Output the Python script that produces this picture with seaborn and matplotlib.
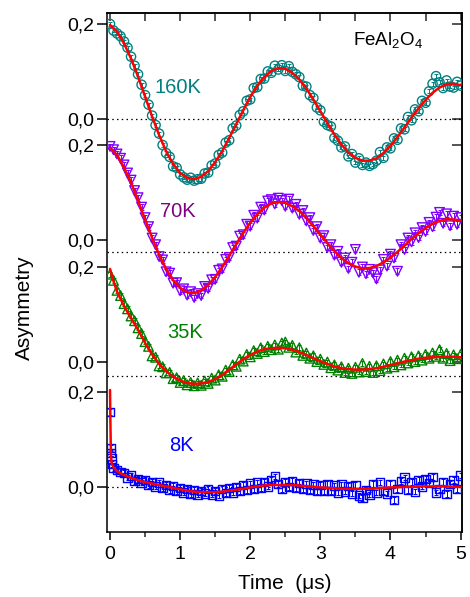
import numpy as np
import pandas as pd
import matplotlib
matplotlib.use("Agg")
import matplotlib.pyplot as plt
import seaborn as sns

# ---- data -------------------------------------------------------------
# muSR asymmetry spectra of FeAl2O4 at four temperatures
time_us = np.round(np.arange(0, 5.0001, 0.05), 2)      # histogram bins (μs)
fit_time_us = np.round(np.arange(0, 5.0001, 0.1), 1)   # fit evaluation grid

asym_160K = [0.200, 0.186, 0.180, 0.174, 0.163, 0.150, 0.131, 0.112, 0.094, 0.072,
             0.050, 0.030, 0.007, -0.013, -0.031, -0.055, -0.072, -0.080, -0.100, -0.103,
             -0.117, -0.123, -0.128, -0.124, -0.130, -0.127, -0.126, -0.115, -0.113, -0.098,
             -0.094, -0.076, -0.071, -0.050, -0.045, -0.020, -0.014, 0.008, 0.016, 0.038,
             0.041, 0.065, 0.067, 0.084, 0.085, 0.100, 0.097, 0.112, 0.104, 0.113,
             0.101, 0.111, 0.099, 0.094, 0.088, 0.070, 0.068, 0.050, 0.044, 0.024,
             0.018, -0.006, -0.013, -0.016, -0.040, -0.046, -0.060, -0.058, -0.079, -0.074,
             -0.092, -0.083, -0.097, -0.092, -0.099, -0.095, -0.088, -0.070, -0.082, -0.060,
             -0.062, -0.041, -0.044, -0.020, -0.022, 0.004, -0.003, 0.020, 0.016, 0.038,
             0.034, 0.058, 0.074, 0.090, 0.077, 0.065, 0.081, 0.068, 0.066, 0.078,
             0.070]
fit_160K = [0.198, 0.184, 0.159, 0.127, 0.089, 0.047, 0.005, -0.034, -0.068, -0.095,
            -0.114, -0.124, -0.127, -0.122, -0.110, -0.091, -0.068, -0.040, -0.011, 0.018,
            0.046, 0.070, 0.088, 0.101, 0.107, 0.106, 0.097, 0.083, 0.064, 0.041,
            0.016, -0.009, -0.033, -0.054, -0.071, -0.082, -0.088, -0.088, -0.083, -0.072,
            -0.057, -0.038, -0.018, 0.003, 0.022, 0.040, 0.055, 0.066, 0.073, 0.074,
            0.071]

asym_70K = [0.197, 0.190, 0.181, 0.172, 0.158, 0.141, 0.126, 0.104, 0.089, 0.069,
            0.047, 0.028, 0.004, -0.010, -0.035, -0.042, -0.067, -0.070, -0.091, -0.090,
            -0.107, -0.103, -0.116, -0.109, -0.121, -0.113, -0.117, -0.098, -0.102, -0.084,
            -0.083, -0.064, -0.061, -0.041, -0.037, -0.016, -0.013, 0.008, 0.011, 0.033,
            0.029, 0.052, 0.046, 0.069, 0.063, 0.082, 0.085, 0.076, 0.088, 0.083,
            0.071, 0.086, 0.067, 0.075, 0.054, 0.062, 0.040, 0.047, 0.020, 0.028,
            0.004, 0.009, -0.016, -0.010, -0.032, -0.024, -0.047, -0.038, -0.060, -0.047,
            -0.020, -0.068, -0.057, -0.071, -0.062, -0.069, -0.082, -0.063, -0.041, -0.055,
            -0.030, -0.038, -0.066, -0.010, -0.020, 0.004, -0.004, 0.015, 0.005, 0.026,
            0.018, 0.037, 0.028, 0.048, 0.058, 0.035, 0.055, 0.030, 0.050, 0.033,
            0.047]
fit_70K = [0.194, 0.179, 0.153, 0.121, 0.083, 0.043, 0.005, -0.031, -0.061, -0.085,
           -0.101, -0.110, -0.112, -0.106, -0.095, -0.078, -0.057, -0.033, -0.009, 0.015,
           0.036, 0.054, 0.068, 0.077, 0.080, 0.078, 0.071, 0.061, 0.046, 0.029,
           0.011, -0.007, -0.023, -0.038, -0.049, -0.056, -0.060, -0.059, -0.055, -0.047,
           -0.037, -0.025, -0.012, 0.002, 0.014, 0.025, 0.034, 0.040, 0.044, 0.043,
           0.041]

asym_35K = [0.185, 0.172, 0.151, 0.140, 0.123, 0.112, 0.097, 0.087, 0.072, 0.060,
            0.043, 0.033, 0.013, 0.010, -0.008, -0.010, -0.023, -0.022, -0.035, -0.033,
            -0.043, -0.039, -0.048, -0.043, -0.050, -0.044, -0.049, -0.040, -0.045, -0.034,
            -0.038, -0.027, -0.030, -0.017, -0.020, -0.006, -0.009, 0.006, 0.002, 0.016,
            0.011, 0.024, 0.018, 0.030, 0.022, 0.033, 0.026, 0.036, 0.027, 0.040,
            0.042, 0.031, 0.035, 0.021, 0.030, 0.014, 0.019, 0.008, 0.013, 0.001,
            0.006, -0.005, 0.000, -0.012, -0.006, -0.017, -0.010, -0.022, -0.013, -0.024,
            -0.011, -0.021, -0.003, -0.020, -0.009, -0.022, -0.008, -0.018, -0.004, -0.013,
            0.001, -0.010, 0.004, -0.006, 0.008, -0.002, 0.011, 0.001, 0.013, 0.004,
            0.016, 0.008, 0.019, 0.012, 0.026, 0.008, 0.018, 0.003, 0.015, 0.007,
            0.016]
fit_time_35K = np.concatenate([[0.0, 0.05], fit_time_us[1:]])
fit_35K = [0.196, 0.170, 0.148, 0.118, 0.092, 0.068, 0.040, 0.016, -0.004, -0.019, -0.031,
           -0.039, -0.044, -0.046, -0.045, -0.042, -0.036, -0.027, -0.016, -0.005, 0.006,
           0.015, 0.022, 0.027, 0.029, 0.030, 0.029, 0.026, 0.021, 0.015, 0.008,
           0.002, -0.004, -0.009, -0.013, -0.015, -0.016, -0.016, -0.015, -0.013, -0.010,
           -0.006, -0.003, 0.001, 0.004, 0.007, 0.009, 0.010, 0.011, 0.011, 0.011,
           0.010]

# 8 K: the first bins are finer to resolve the fast initial relaxation
time_8K = np.concatenate([[0.0, 0.01, 0.015, 0.02, 0.03], time_us[1:]])
asym_8K = [0.158, 0.082, 0.072, 0.060, 0.048,
           0.040, 0.036, 0.031, 0.029, 0.020, 0.024, 0.013, 0.017, 0.009, 0.014,
           0.004, 0.011, 0.001, 0.009, -0.003, 0.004, -0.006, 0.002, -0.009, -0.002,
           -0.012, -0.004, -0.015, -0.007, -0.016, -0.008, -0.014, -0.005, -0.016, -0.009,
           -0.018, -0.004, -0.013, -0.002, -0.012, 0.000, -0.008, 0.004, -0.006, 0.007,
           -0.004, 0.009, -0.003, 0.011, 0.001, 0.014, 0.022, 0.006, -0.004, 0.010,
           0.000, 0.012, -0.002, 0.008, -0.004, 0.007, -0.006, 0.005, -0.008, 0.004,
           -0.008, 0.006, -0.009, 0.003, -0.012, 0.005, -0.010, 0.002, -0.014, 0.004,
           -0.018, -0.024, -0.006, -0.016, 0.006, -0.012, 0.009, -0.008, -0.014, 0.006,
           -0.028, -0.005, 0.013, 0.020, -0.006, 0.011, -0.010, 0.015, 0.001, 0.017,
           0.008, 0.021, -0.012, -0.005, 0.010, -0.015, 0.006, 0.014, -0.004, 0.024]
fit_time_8K = np.concatenate([[0.0, 0.005, 0.01, 0.015, 0.02, 0.03, 0.05], fit_time_us[1:]])
fit_8K = [0.204, 0.140, 0.095, 0.065, 0.053, 0.047, 0.041,
          0.033, 0.025, 0.019, 0.014, 0.010, 0.007, 0.004, 0.001, -0.002,
          -0.005, -0.008, -0.010, -0.011, -0.011, -0.011, -0.010, -0.008, -0.006, -0.004,
          -0.001, 0.001, 0.003, 0.004, 0.004, 0.004, 0.004, 0.003, 0.001, 0.000,
          -0.001, -0.002, -0.003, -0.004, -0.004, -0.004, -0.004, -0.004, -0.003, -0.002,
          -0.001, -0.001, 0.000, 0.000, 0.001, 0.001, 0.001, 0.001, 0.001, 0.000,
          0.000]

labels = ["160K", "70K", "35K", "8K"]
tick_labels = ["0,0", "0,2"]

# ---- styling ----------------------------------------------------------
sns.set_theme(style="white")
plt.rcParams["font.family"] = ["Liberation Sans", "DejaVu Sans"]
plt.rcParams["mathtext.fontset"] = "custom"
plt.rcParams["mathtext.rm"] = "Liberation Sans"
plt.rcParams["mathtext.it"] = "Liberation Sans:italic"
plt.rcParams["axes.linewidth"] = 1.1
plt.rcParams["axes.edgecolor"] = "black"

series = [
    # label, t, data, fit t, fit, vertical offset, dotted baseline, marker, size, marker colour, text colour, error, text pos
    ("160K", time_us, asym_160K, fit_time_us, fit_160K, 0.775, 0.0, "o", 44, "#008080", "#008080", 0.004, (0.97, 0.842)),
    ("70K", time_us, asym_70K, fit_time_us, fit_70K, 0.520, -0.025, "v", 48, "#8000FF", "#800080", 0.006, (0.96, 0.581)),
    ("35K", time_us, asym_35K, fit_time_35K, fit_35K, 0.263, -0.029, "^", 48, "#008000", "#008000", 0.005, (1.07, 0.326)),
    ("8K", time_8K, asym_8K, fit_time_8K, fit_8K, 0.0, 0.0, "s", 36, "#0000FF", "#0000FF", 0.006, (1.02, 0.088)),
]

fig = plt.figure(figsize=(4.7, 5.97), dpi=100)
ax = fig.add_axes([107 / 470, 1 - 532 / 597, (462 - 107) / 470, (532 - 13) / 597])

yticks, yticklabels = [], []
for (name, t, y, tf, yf, off, base, mk, sz, mcol, tcol, err, tpos) in series:
    df = pd.DataFrame({"time": t, "asym": np.asarray(y) + off})
    dfit = pd.DataFrame({"time": tf, "asym": np.asarray(yf) + off})
    ax.axhline(off + base, color="black", ls=(0, (1.2, 2.6)), lw=0.9, zorder=1)
    ax.errorbar(df["time"], df["asym"], yerr=err, fmt="none", ecolor=mcol,
                elinewidth=0.7, capsize=1.2, capthick=0.7, zorder=2)
    sns.scatterplot(data=df, x="time", y="asym", ax=ax, marker=mk, s=sz,
                    facecolor="none", edgecolor=mcol, linewidth=1.0, zorder=3)
    sns.lineplot(data=dfit, x="time", y="asym", ax=ax, color="#FF0000", lw=1.8,
                 estimator=None, sort=False, zorder=4)
    ax.text(tpos[0], tpos[1], name, color=tcol, fontsize=14.5, ha="center", va="center")
    yticks += [off, off + 0.2]
    yticklabels += tick_labels

ax.text(3.46, 0.931, r"$\mathregular{FeAl_2O_4}$", fontsize=13.5, ha="left", va="baseline",
        color="black")

ax.set_xlim(-0.043, 5.02)
ax.set_ylim(-0.095, 0.998)
ax.set_xticks(range(0, 6))
ax.set_xticks(np.arange(0.5, 5.0, 1.0), minor=True)
ax.set_yticks(yticks)
ax.set_yticklabels(yticklabels)
ax.tick_params(axis="x", which="major", direction="out", length=6, width=1.1,
               labelsize=14, pad=4, bottom=True, top=False, colors="black")
ax.tick_params(axis="x", which="minor", direction="out", length=3.5, width=1.1,
               bottom=True, top=False)
ax.tick_params(axis="y", which="major", direction="out", length=7, width=1.1,
               labelsize=14, pad=2, left=True, right=False, colors="black")

top = ax.secondary_xaxis("top")
top.set_xticks(np.arange(0, 5.01, 0.5))
top.set_xticklabels([])
top.tick_params(axis="x", direction="in", length=6, width=1.1)
right = ax.secondary_yaxis("right")
right.set_yticks(yticks)
right.set_yticklabels([])
right.tick_params(axis="y", direction="in", length=7, width=1.1)

ax.set_xlabel("Time  (μs)", fontsize=15, labelpad=8, color="black")
ax.set_ylabel("Asymmetry", fontsize=15, color="black")
ax.yaxis.set_label_coords(-0.205, 0.432)

fig.savefig("out.png", dpi=100)
